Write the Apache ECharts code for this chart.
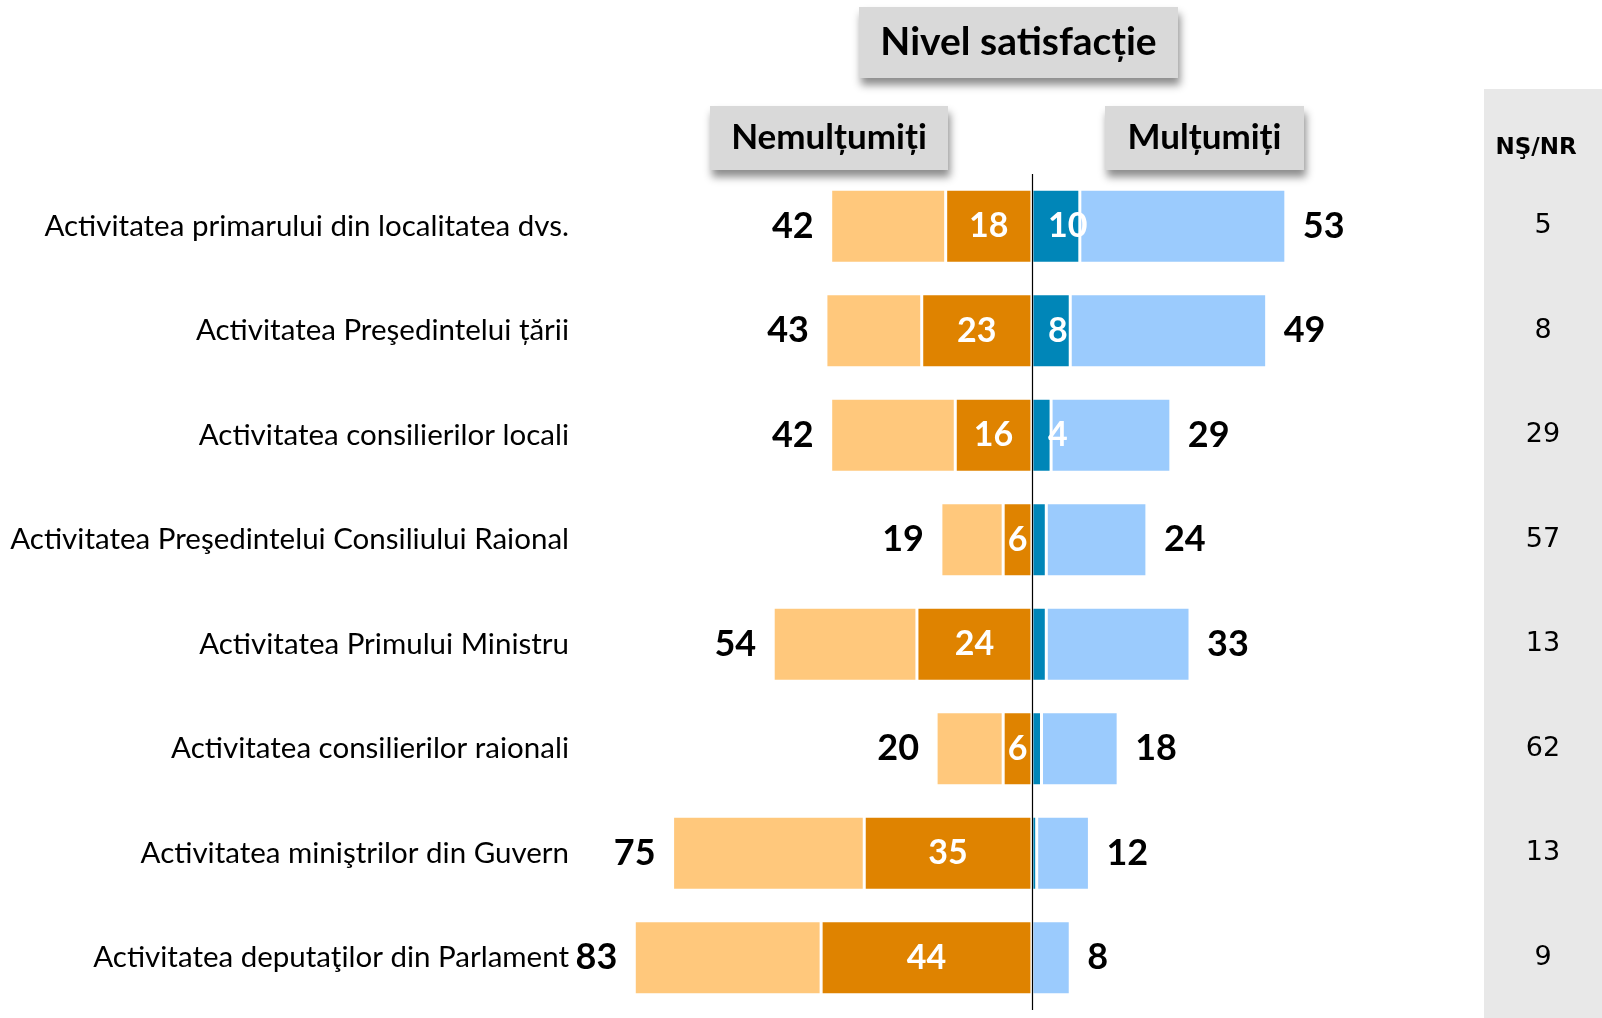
<!DOCTYPE html>
<html>
<head>
<meta charset="utf-8">
<script src="https://cdn.jsdelivr.net/npm/echarts@6/dist/echarts.min.js"></script>
<style>
    html, body {margin: 0; padding: 0; background: #fff;}
    #chart {width: 1602px; height: 1018px;}
</style>
</head>
<body>
<div id="chart"></div>
<script>
var categories = [
    'Activitatea primarului din localitatea dvs.',
    'Activitatea Preşedintelui țării',
    'Activitatea consilierilor locali',
    'Activitatea Preşedintelui Consiliului Raional',
    'Activitatea Primului Ministru',
    'Activitatea consilierilor raionali',
    'Activitatea miniştrilor din Guvern',
    'Activitatea deputaţilor din Parlament'
];
// totaluri nemultumiti / multumiti si partea "foarte"
var nemultumiti = [42, 43, 42, 19, 54, 20, 75, 83];
var foarteNemultumiti = [18, 23, 16, 6, 24, 6, 35, 44];
var multumiti = [53, 49, 29, 24, 33, 18, 12, 8];
var foarteMultumiti = [10, 8, 4, 3, 3, 2, 1, 0];
var nsnr = [5, 8, 29, 57, 13, 62, 13, 9];

var FONT = "Lato, 'Open Sans', sans-serif";

var chartDom = document.getElementById('chart');
var myChart = echarts.init(chartDom);
var option;

function titleBox(x, y, w, h, text, size) {
    return {
        type: 'group',
        children: [
            {
                type: 'rect',
                shape: {x: x, y: y, width: w, height: h},
                style: {
                    fill: '#d9d9d9',
                    shadowBlur: 8,
                    shadowOffsetX: 2,
                    shadowOffsetY: 7,
                    shadowColor: 'rgba(0,0,0,0.45)'
                }
            },
            {
                type: 'text',
                style: {
                    text: text,
                    x: x + w / 2,
                    y: y + h / 2,
                    align: 'center',
                    verticalAlign: 'middle',
                    fontFamily: FONT,
                    fontWeight: 'bold',
                    fontSize: size,
                    fill: '#000'
                }
            }
        ]
    };
}

option = {
    animation: false,
    backgroundColor: '#fff',
    graphic: [
        {
            type: 'rect',
            z: -10,
            shape: {x: 1484, y: 89, width: 118, height: 929},
            style: {fill: '#e8e8e8'}
        },
        {
            type: 'text',
            style: {
                text: 'NŞ/NR',
                x: 1536, y: 148,
                align: 'center', verticalAlign: 'middle',
                fontFamily: "'DejaVu Sans', sans-serif",
                fontWeight: 'bold',
                fontSize: 23,
                fill: '#000'
            }
        },
        titleBox(859, 7, 319, 71, 'Nivel satisfacție', 39),
        titleBox(710, 106, 238, 64, 'Nemulțumiți', 35),
        titleBox(1105, 106, 199, 64, 'Mulțumiți', 35)
    ],
    grid: {
        left: 572,
        right: 91,
        top: 174,
        bottom: 8
    },
    xAxis: {
        type: 'value',
        min: -96,
        max: 100,
        show: false
    },
    yAxis: [
        {
            type: 'category',
            data: categories,
            inverse: true,
            axisLine: {show: false},
            axisTick: {show: false},
            axisLabel: {
                margin: 3,
                color: '#000',
                fontFamily: FONT,
                fontSize: 29.5
            }
        },
        {
            type: 'category',
            data: categories,
            inverse: true,
            position: 'right',
            axisLine: {show: false},
            axisTick: {show: false},
            axisLabel: {
                margin: 32,
                align: 'center',
                color: '#000',
                fontFamily: "'DejaVu Sans', sans-serif",
                fontSize: 27,
                formatter: function (v, i) {
                    return nsnr[i];
                }
            }
        }
    ],
    series: [
        {
            name: 'Foarte nemulțumiți',
            type: 'bar',
            stack: 'total',
            barWidth: 74,
            itemStyle: {color: '#df8300', borderColor: '#fff', borderWidth: 1.5},
            label: {
                show: true,
                position: 'inside',
                color: '#fff',
                fontFamily: FONT,
                fontWeight: 'bold',
                fontSize: 34,
                formatter: function (p) {
                    return Math.abs(p.value);
                }
            },
            markLine: {
                silent: true,
                symbol: 'none',
                label: {show: false},
                lineStyle: {color: '#000', width: 1.2, type: 'solid'},
                data: [{xAxis: 0}]
            },
            data: foarteNemultumiti.map(function (v) { return -v; })
        },
        {
            name: 'Mai degrabă nemulțumiți',
            type: 'bar',
            stack: 'total',
            itemStyle: {color: '#ffc87c', borderColor: '#fff', borderWidth: 1.5},
            label: {
                show: true,
                position: 'left',
                distance: 17,
                color: '#000',
                fontFamily: FONT,
                fontWeight: 'bold',
                fontSize: 36,
                formatter: function (p) {
                    return nemultumiti[p.dataIndex];
                }
            },
            data: nemultumiti.map(function (v, i) { return -(v - foarteNemultumiti[i]); })
        },
        {
            name: 'Foarte mulțumiți',
            type: 'bar',
            stack: 'total',
            itemStyle: {color: '#0086b8', borderColor: '#fff', borderWidth: 1.5},
            label: {
                show: true,
                position: 'insideLeft',
                distance: 16,
                color: '#fff',
                fontFamily: FONT,
                fontWeight: 'bold',
                fontSize: 34,
                formatter: function (p) {
                    return p.value >= 4 ? p.value : '';
                }
            },
            data: foarteMultumiti
        },
        {
            name: 'Mai degrabă mulțumiți',
            type: 'bar',
            stack: 'total',
            itemStyle: {color: '#9bcbfd', borderColor: '#fff', borderWidth: 1.5},
            label: {
                show: true,
                position: 'right',
                distance: 17,
                color: '#000',
                fontFamily: FONT,
                fontWeight: 'bold',
                fontSize: 36,
                formatter: function (p) {
                    return multumiti[p.dataIndex];
                }
            },
            data: multumiti.map(function (v, i) { return v - foarteMultumiti[i]; })
        }
    ]
};

option && myChart.setOption(option);
</script>
</body>
</html>
